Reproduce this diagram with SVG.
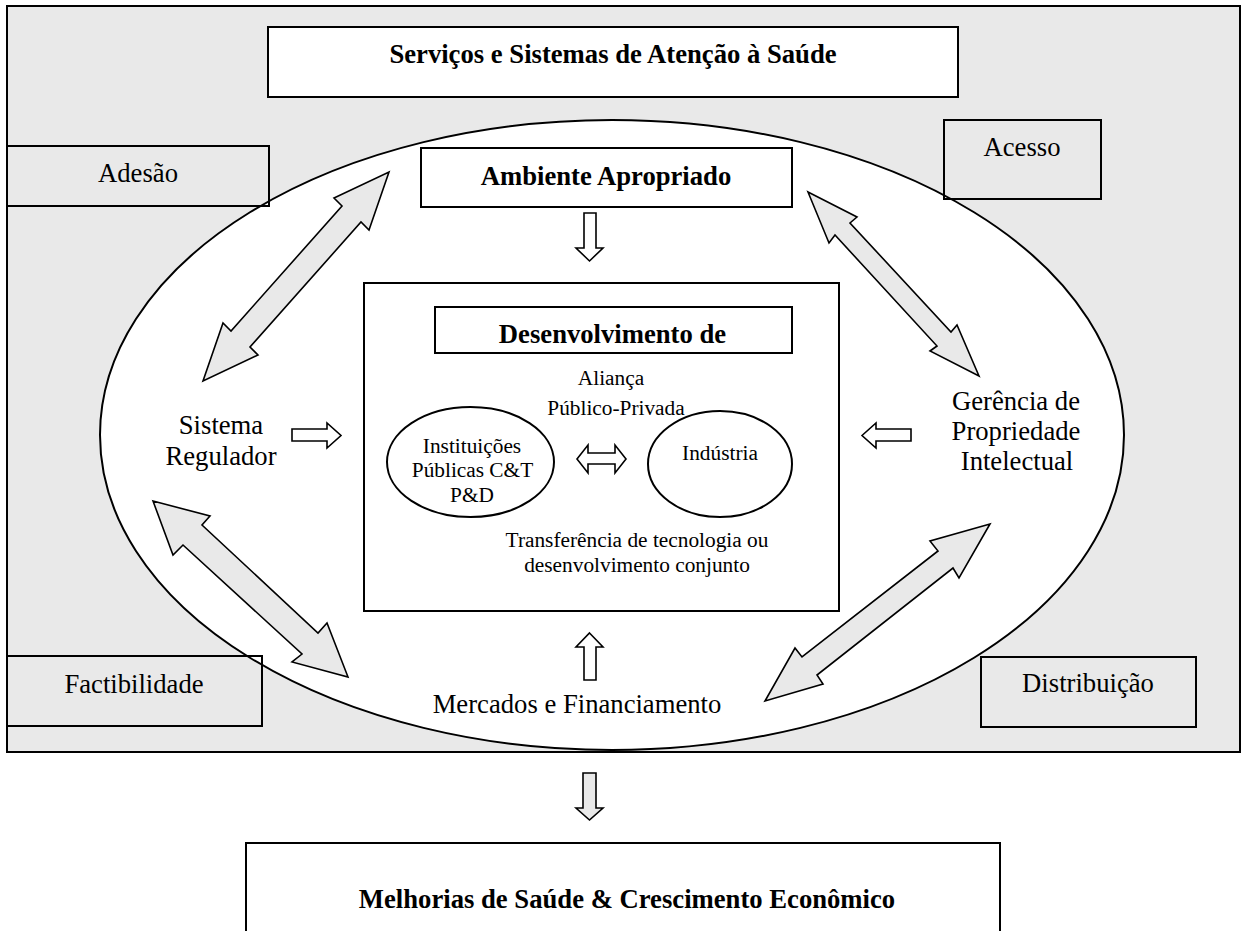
<svg xmlns="http://www.w3.org/2000/svg" width="1242" height="931" viewBox="0 0 1242 931">
<style>
text{font-family:"Liberation Serif","Times New Roman",serif;fill:#000;text-anchor:middle}
.l{font-size:26.67px}
.b{font-size:26.67px;font-weight:bold}
.s{font-size:21.33px}
.box{stroke:#000;stroke-width:2}
.w{fill:#fff}
.g{fill:#e9e9e9}
.n{fill:none}
.arr{stroke:#000;stroke-width:1.6;stroke-linejoin:miter}
</style>
<rect id="background" x="7" y="6" width="1233" height="746" class="box g"/>
<g id="ellipse-main"><ellipse cx="612" cy="435" rx="512" ry="315" class="box w"/></g>
<g id="servicos"><rect x="268" y="27" width="690" height="70" class="box w"/><text class="b" x="613" y="63">Serviços e Sistemas de Atenção à Saúde</text></g>
<g id="adesao"><rect x="7" y="146" width="262" height="60" class="box n"/><text class="l" x="138" y="182">Adesão</text></g>
<g id="acesso"><rect x="944" y="120" width="157" height="79" class="box n"/><text class="l" x="1022" y="156">Acesso</text></g>
<g id="factibilidade"><rect x="7" y="656" width="255" height="70" class="box n"/><text class="l" x="134" y="693">Factibilidade</text></g>
<g id="distribuicao"><rect x="981" y="657" width="215" height="70" class="box n"/><text class="l" x="1088" y="692">Distribuição</text></g>
<g id="ambiente"><rect x="421" y="148" width="371" height="59" class="box w"/><text class="b" x="606" y="185">Ambiente Apropriado</text></g>
<g id="desenvolvimento"><rect x="364" y="283" width="475" height="328" class="box w"/><rect x="435" y="307" width="357" height="46" class="box w"/><text class="b" x="612.5" y="343">Desenvolvimento de</text>
<text class="s" x="611" y="385">Aliança</text><text class="s" x="616" y="415">Público-Privada</text>
<text class="s" x="637" y="547">Transferência de tecnologia ou</text><text class="s" x="637" y="572">desenvolvimento conjunto</text></g>
<g id="instituicoes"><ellipse cx="470.5" cy="462" rx="83.5" ry="55" class="box w"/><text class="s" x="472" y="453">Instituições</text><text class="s" x="472.5" y="477">Públicas C&amp;T</text><text class="s" x="472" y="502">P&amp;D</text></g>
<g id="industria"><ellipse cx="720" cy="464" rx="72" ry="53" class="box w"/><text class="s" x="720" y="460">Indústria</text></g>
<g id="sistema-regulador"><text class="l" x="221" y="434">Sistema</text><text class="l" x="221" y="465">Regulador</text></g>
<g id="gerencia"><text class="l" x="1016" y="410">Gerência de</text><text class="l" x="1016" y="440">Propriedade</text><text class="l" x="1017" y="470">Intelectual</text></g>
<g id="mercados"><text class="l" x="577" y="713">Mercados e Financiamento</text></g>
<g id="melhorias"><rect x="246" y="843" width="754" height="100" class="box w"/><text class="b" x="627" y="908">Melhorias de Saúde &amp; Crescimento Econômico</text></g>
<g id="connectors">
<polygon class="arr g" points="389,172 369,230 361,222 250,347 258,355 203,381 223,323 231,331 342,206 334,198"/>
<polygon class="arr g" points="808,192 857,217 850,223 951,332 957,325 979,376 930,351 937,346 835,235 829,243"/>
<polygon class="arr g" points="153,501 210,516 202,525 318,633 327,623 348,677 292,662 302,654 183,545 173,555"/>
<polygon class="arr g" points="990,524 930,541 938,551 802,657 795,648 765,701 823,684 817,675 953,568 959,578"/>
<polygon class="arr w" points="584,213 596,213 596,248 603,248 589.5,261 576,248 584,248"/>
<polygon class="arr w" points="589.5,633 603,647 596,647 596,680 584,680 584,647 576,647"/>
<polygon class="arr w" points="292,429 327,429 327,423 341,435.5 327,448 327,441 292,441"/>
<polygon class="arr w" points="862,435.5 876,423 876,429 911,429 911,441 876,441 876,448"/>
<polygon class="arr w" points="577,459 588,445 588,453 615,453 615,445 626,459 615,473 615,464 588,464 588,473"/>
<polygon class="arr g" points="583,773 596,773 596,808 603,808 589.5,820 576,808 583,808"/>
</g>
</svg>
